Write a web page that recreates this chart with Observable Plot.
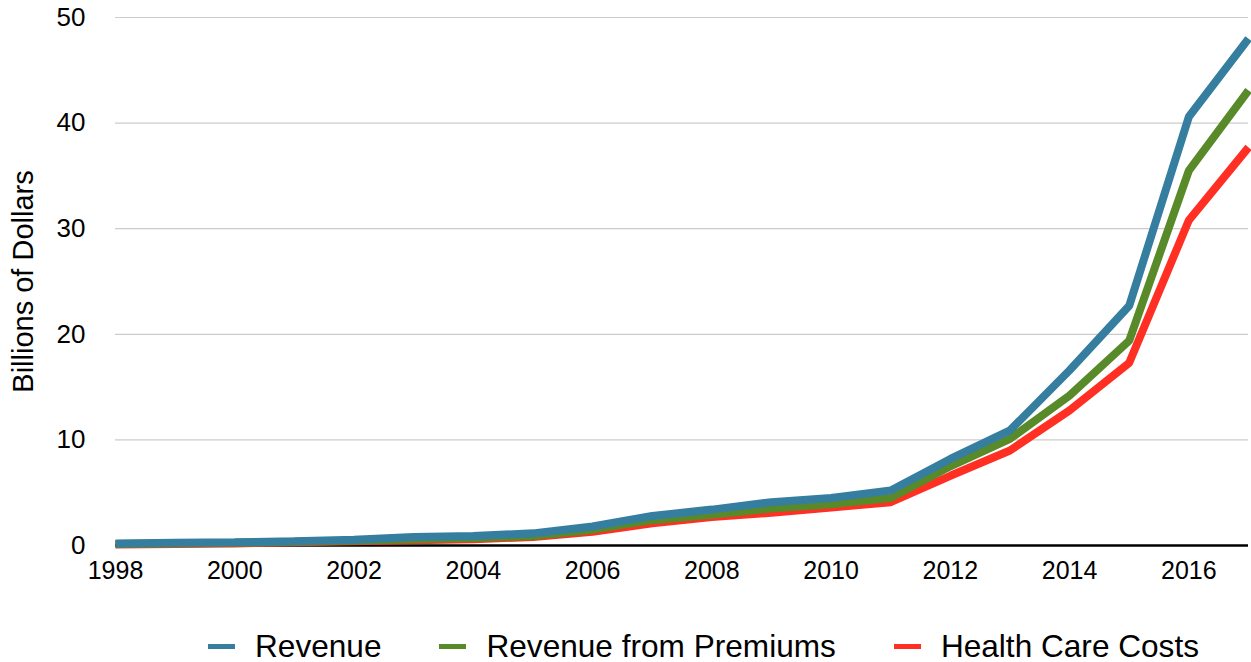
<!DOCTYPE html>
<html>
<head>
<meta charset="utf-8">
<script src="https://cdn.jsdelivr.net/npm/d3@7"></script>
<script src="https://cdn.jsdelivr.net/npm/@observablehq/plot@0.6"></script>
<style>
  html, body { margin: 0; padding: 0; background: #fff; }
  body { width: 1251px; height: 662px; overflow: hidden; font-family: "Liberation Sans", Arial, Helvetica, sans-serif; }
  #legend { position: absolute; left: 208px; top: 628px; display: flex; align-items: center; font-size: 31.6px; color: #000; white-space: nowrap; }
  .item { display: flex; align-items: center; margin-right: 58px; }
  .sw { width: 27px; height: 5px; margin-right: 20px; }
</style>
</head>
<body>
<div id="chart"></div>
<div id="legend"></div>
<script>
const years = [1998,1999,2000,2001,2002,2003,2004,2005,2006,2007,2008,2009,2010,2011,2012,2013,2014,2015,2016,2017];
const revenue =  [0.2,0.25,0.3,0.4,0.55,0.8,0.9,1.15,1.8,2.8,3.4,4.1,4.5,5.2,8.2,10.9,16.6,22.7,40.6,48.0];
const premiums = [0.15,0.2,0.25,0.35,0.45,0.6,0.7,0.9,1.5,2.4,2.9,3.5,3.9,4.5,7.5,10.1,14.2,19.4,35.5,43.1];
const costs =    [0.1,0.15,0.2,0.3,0.4,0.5,0.6,0.8,1.3,2.1,2.7,3.1,3.6,4.1,6.6,9.0,12.8,17.3,30.8,37.7];
const seriesNames = ["Revenue", "Revenue from Premiums", "Health Care Costs"];
const seriesColors = ["#367e9f", "#588a29", "#ff2f24"];
const xTicks = [1998,2000,2002,2004,2006,2008,2010,2012,2014,2016];
const yTicks = [0,10,20,30,40,50];

const allSeries = [revenue, premiums, costs];
const rows = [];
// draw order: costs first, then premiums, then revenue on top
[2,1,0].forEach(si => {
  years.forEach((y, i) => rows.push({year: y, value: allSeries[si][i], series: seriesNames[si]}));
});

const chart = Plot.plot({
  width: 1251,
  height: 600,
  marginLeft: 115,
  marginRight: 3,
  marginTop: 17,
  marginBottom: 55,
  style: {fontFamily: '"Liberation Sans", Arial, Helvetica, sans-serif', fontSize: "25px", color: "#000", background: "#fff"},
  x: {type: "linear", domain: [1998, 2017], ticks: xTicks, tickFormat: d => String(d), tickSize: 0, tickPadding: 16, label: null},
  y: {domain: [0, 50], ticks: yTicks, tickSize: 0, tickPadding: 30, label: null},
  color: {domain: seriesNames, range: seriesColors},
  marks: [
    Plot.ruleY(yTicks.filter(d => d > 0), {stroke: "#cccccc", strokeWidth: 1.2}),
    Plot.axisX({ticks: xTicks, tickFormat: d => String(d), tickSize: 0, tickPadding: 16, fontSize: 25}),
    Plot.axisY({ticks: yTicks, tickSize: 0, tickPadding: 30, fontSize: 26, label: null}),
    Plot.ruleY([0], {stroke: "#000", strokeWidth: 2.5}),
    Plot.line(rows, {x: "year", y: "value", z: "series", stroke: "series", strokeWidth: 8, strokeLinecap: "butt", strokeLinejoin: "miter"}),
    Plot.text(["Billions of Dollars"], {frameAnchor: "left", textAnchor: "middle", dx: -92, rotate: -90, fontSize: 29, fill: "#000"})
  ]
});
document.getElementById("chart").appendChild(chart);

const legend = document.getElementById("legend");
seriesNames.forEach((n, i) => {
  const item = document.createElement("div");
  item.className = "item";
  const sw = document.createElement("span");
  sw.className = "sw";
  sw.style.background = seriesColors[i];
  const t = document.createElement("span");
  t.textContent = n;
  item.appendChild(sw);
  item.appendChild(t);
  legend.appendChild(item);
});
</script>
</body>
</html>
